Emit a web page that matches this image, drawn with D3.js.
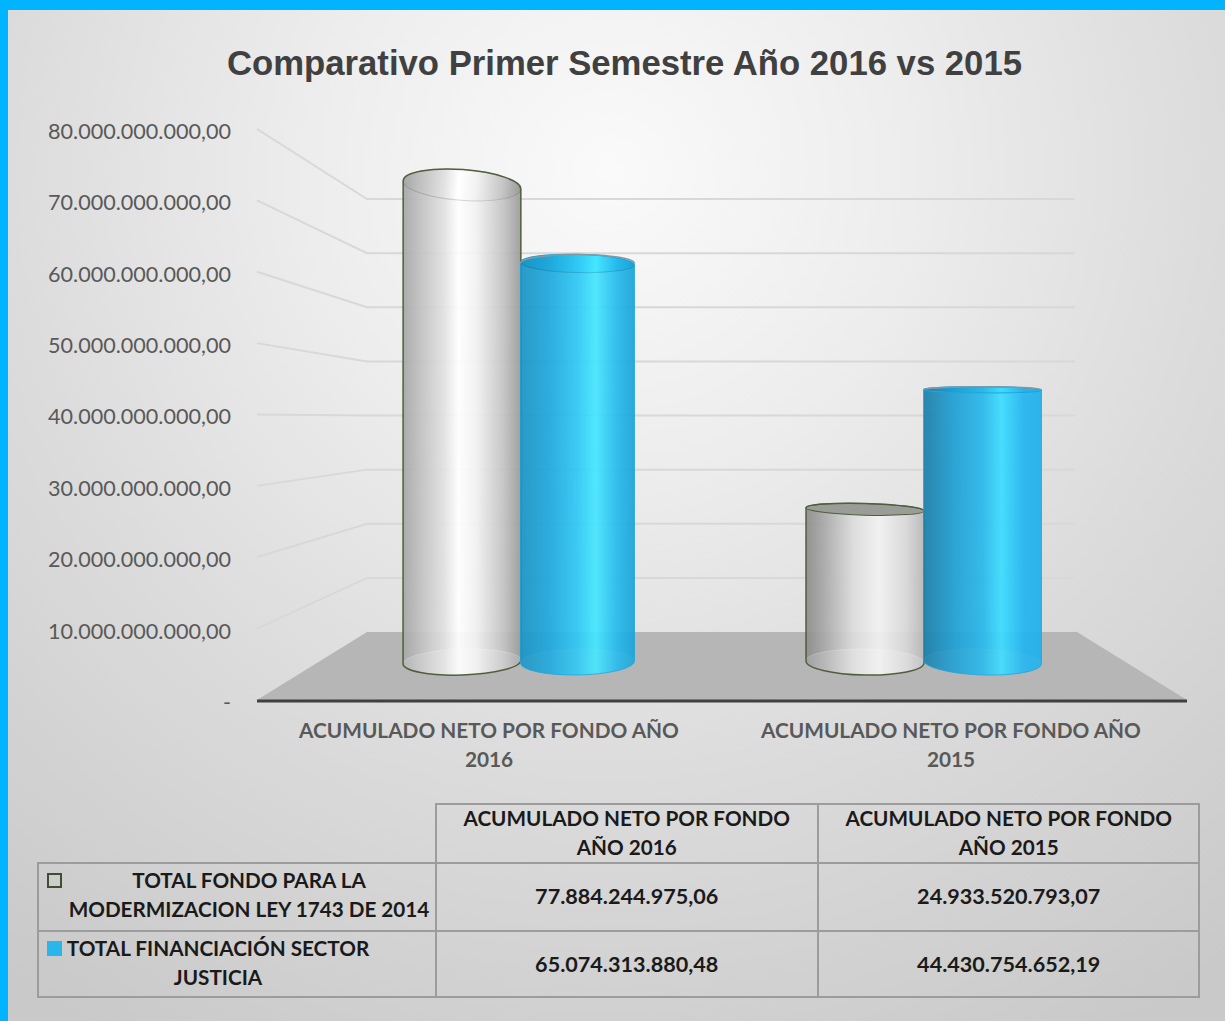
<!DOCTYPE html>
<html><head><meta charset="utf-8">
<style>html,body{margin:0;padding:0;background:#ccc;overflow:hidden}svg{display:block}</style>
<script src="https://cdn.jsdelivr.net/npm/d3@7"></script></head>
<body><svg id="c" width="1225" height="1021"></svg>
<script>
const title = "Comparativo Primer Semestre Año 2016 vs 2015";
const categories = ["ACUMULADO NETO POR FONDO AÑO 2016", "ACUMULADO NETO POR FONDO AÑO 2015"];
const categoryAxisLines = [["ACUMULADO NETO POR FONDO AÑO", "2016"], ["ACUMULADO NETO POR FONDO AÑO", "2015"]];
const categoryTableLines = [["ACUMULADO NETO POR FONDO", "AÑO 2016"], ["ACUMULADO NETO POR FONDO", "AÑO 2015"]];
const seriesNames = ["TOTAL FONDO PARA LA MODERMIZACION LEY 1743 DE 2014", "TOTAL FINANCIACIÓN SECTOR JUSTICIA"];
const seriesLines = [["TOTAL FONDO PARA LA", "MODERMIZACION LEY 1743 DE 2014"], ["TOTAL FINANCIACIÓN SECTOR", "JUSTICIA"]];
const fondoValues = [77884244975.06, 24933520793.07];
const justiciaValues = [65074313880.48, 44430754652.19];
const tickValues = [0, 1e10, 2e10, 3e10, 4e10, 5e10, 6e10, 7e10, 8e10];

const svg = d3.select("#c");
const defs = svg.append("defs");
const bg = defs.append("radialGradient").attr("id","bg").attr("gradientUnits","userSpaceOnUse")
  .attr("cx",610).attr("cy",170).attr("r",1000);
[[0,"#fafafa"],[.3,"#ededed"],[.6,"#dcdcdc"],[1,"#c9c9c9"]].forEach(s=>bg.append("stop").attr("offset",s[0]).attr("stop-color",s[1]));
function grad(id,stops){const g=defs.append("linearGradient").attr("id",id);stops.forEach(s=>g.append("stop").attr("offset",s[0]).attr("stop-color",s[1]));}
grad("w0",[[0,"#a6a6a6"],[.12,"#bcbcbc"],[.35,"#e2e2e2"],[.47,"#ffffff"],[.62,"#f2f2f2"],[.85,"#c4c4c4"],[1,"#9a9a9a"]]);
grad("w1",[[0,"#8c8c8c"],[.15,"#a8a8a8"],[.4,"#dcdcdc"],[.62,"#f2f2f2"],[.85,"#d8d8d8"],[1,"#b8b8b8"]]);
grad("b0",[[0,"#1a93c4"],[.25,"#1ea8dc"],[.5,"#2fc8f4"],[.66,"#45e6ff"],[.85,"#25b8ec"],[1,"#1aa4d8"]]);
grad("b1",[[0,"#1c7ea8"],[.25,"#1f9ed2"],[.5,"#28b8ea"],[.66,"#3cdcff"],[.85,"#22b4f0"],[1,"#20b0ea"]]);

svg.append("rect").attr("width",1225).attr("height",1021).attr("fill","url(#bg)");
svg.append("rect").attr("width",1225).attr("height",10).attr("fill","#00b4ff");
svg.append("rect").attr("width",8).attr("height",1021).attr("fill","#00b4ff");

svg.append("text").text(title).attr("x",624.5).attr("y",75)
  .attr("text-anchor","middle").attr("font-family","Liberation Sans").attr("font-weight",700)
  .attr("font-size",34.7).attr("fill","#404040");

// scales
const yFront = d3.scaleLinear().domain([0,8e10]).range([700,129]);
const yBack  = d3.scaleLinear().domain([0,8e10]).range([632,199]);
const yBar   = d3.scaleLinear().domain([0,8e10]).range([662,172]);
const xGroup = d3.scaleBand().domain(categories).range([318,1124]);
const xBar   = d3.scaleBand().domain([0,1]).range([-116,118]);
const xLabel = d3.scaleBand().domain(categories).range([258,1182]);
const es = d3.formatLocale({decimal:",",thousands:".",grouping:[3],currency:["",""]}).format(",.2f");
const fmt = v => v===0 ? "-" : es(v);

// walls and gridlines
const grid = svg.append("g").attr("fill","none").attr("stroke","#d8d8d8").attr("stroke-width",2);
grid.selectAll("path.g").data(tickValues.slice(1)).join("path").attr("class","g")
  .attr("d",v=>d3.line()([[257,yFront(v)],[367,yBack(v)],[1075,yBack(v)]]));
svg.append("path").attr("d",d3.line()([[257,yFront(0)],[367,yBack(0)],[1077,yBack(0)],[1187,yFront(0)]])+"Z").attr("fill","#b6b6b6");
svg.append("line").attr("x1",257).attr("x2",1187).attr("y1",701).attr("y2",701).attr("stroke","#404040").attr("stroke-width",3);

// value axis
const axis = d3.axisLeft(yFront).tickValues(tickValues).tickFormat(fmt).tickSize(0).tickPadding(0);
const ax = svg.append("g").attr("transform","translate(231,2.5)").call(axis);
ax.select(".domain").remove();
ax.selectAll("text").attr("font-family","Lato").attr("font-size",21.6).attr("fill","#595959");

// cylinders
const HORIZON = 378, MIDX = 720;
function cyl(parent,cx,rx,yT,yB,fill,stroke,topFill,stw,baseOpacity){
  const ryOf = y => y<HORIZON ? Math.max(3,(HORIZON-y)*0.08) : Math.max(3,(y-HORIZON)*0.045);
  const rotT = (HORIZON-yT)*(MIDX-cx)/12000, rotB = (HORIZON-yB)*(MIDX-cx)/40000;
  const end = (cy,rot,s)=>{const a=rot*Math.PI/180;return [cx+s*rx*Math.cos(a),cy+s*rx*Math.sin(a)];};
  const tl=end(yT,rotT,-1),tr=end(yT,rotT,1),bl=end(yB,rotB,-1),br=end(yB,rotB,1);
  const ryT=ryOf(yT), ryB=13;
  const body=`M${tl}L${bl}A${rx} ${ryB} ${rotB} 0 0 ${br}L${tr}A${rx} ${ryT} ${rotT} 0 0 ${tl}Z`;
  const g=parent.append("g");
  g.append("path").attr("d",body).attr("fill",fill).attr("fill-opacity",.93);
  g.append("ellipse").attr("cx",cx).attr("cy",yB).attr("rx",rx).attr("ry",ryB).attr("transform",`rotate(${rotB} ${cx} ${yB})`)
    .attr("fill","#fff").attr("fill-opacity",baseOpacity).attr("stroke","#fff").attr("stroke-opacity",baseOpacity*1.3);
  g.append("ellipse").attr("cx",cx).attr("cy",yT).attr("rx",rx).attr("ry",ryT).attr("transform",`rotate(${rotT} ${cx} ${yT})`)
    .attr("fill",topFill).attr("stroke",yT<HORIZON?"#000":stroke).attr("stroke-opacity",yT<HORIZON?.15:1).attr("stroke-width",1);
  g.append("path").attr("d",body).attr("fill","none").attr("stroke",stroke).attr("stroke-width",stw);
}
const bars = svg.append("g");
[fondoValues, justiciaValues].forEach((vals,s)=>{
  vals.forEach((v,i)=>{
    const cx = xGroup(categories[i])+xGroup.bandwidth()/2 + xBar(s) + (s===0?xBar.bandwidth()/2:(i===0?57:59));
    const y = yBar(v);
    const fill = `url(#${s===0?"w":"b"}${i})`;
    const stroke = s===0 ? "#4f5f3c" : "#7f9aa6";
    const top = s===0 ? (i===0?"url(#w0)":"#9a9c98") : fill;
    const rx = s===0?59:(i===0?57:59);
    cyl(bars,cx,rx,y,yBar(0),fill,s===0?stroke:"#1fa5dc",top,s===0?1.5:.8,s===0?.16:.03);
    if(s===1) bars.append("path").attr("d",`M${cx-rx} ${y}A${rx} ${y<378?9:3} 0 0 1 ${cx+rx} ${y}`)
      .attr("fill","none").attr("stroke",stroke).attr("stroke-width",1.5);
  });
});

// category labels
const cat = svg.append("g").attr("font-family","Lato").attr("font-weight",700).attr("font-size",20.8).attr("fill","#595959").attr("text-anchor","middle");
categories.forEach((c,i)=>{
  categoryAxisLines[i].forEach((l,j)=>{
    cat.append("text").text(l).attr("x",xLabel(c)+xLabel.bandwidth()/2).attr("y",738+j*29);
  });
});

// data table
const xCols = d3.scaleOrdinal().domain(categories).range([436,818]);
const colW = 381.5;
const rowY = d3.scaleOrdinal().domain(seriesNames).range([863,931]);
const tbl = svg.append("g");
const ln = tbl.append("g").attr("stroke","#9c9c9c").attr("stroke-width",2).attr("fill","none");
ln.append("path").attr("d","M436 863V804H1199V997H38V863H1199M818 804V997M436 863V997M38 931H1199");
const tt = tbl.append("g").attr("font-family","Lato").attr("font-weight",700).attr("font-size",20.7).attr("fill","#1a1a1a").attr("text-anchor","middle");
categories.forEach((c,i)=>{
  categoryTableLines[i].forEach((l,j)=>tt.append("text").text(l).attr("x",xCols(c)+colW/2).attr("y",826+j*29));
});
seriesNames.forEach((n,s)=>{
  seriesLines[s].forEach((l,j)=>tt.append("text").text(l)
    .attr("x",s===0?249:218).attr("y",rowY(n)+25+j*29));
  [fondoValues,justiciaValues][s].forEach((v,i)=>{
    tt.append("text").text(es(v)).attr("x",xCols(categories[i])+colW/2).attr("y",rowY(n)+41).attr("font-size",21.6);
  });
});
tbl.append("rect").attr("x",48).attr("y",874).attr("width",13).attr("height",13).attr("fill","none").attr("stroke","#3f5030").attr("stroke-width",2);
tbl.append("rect").attr("x",47).attr("y",941).attr("width",15).attr("height",15).attr("fill","#29b6ea");
</script></body></html>
